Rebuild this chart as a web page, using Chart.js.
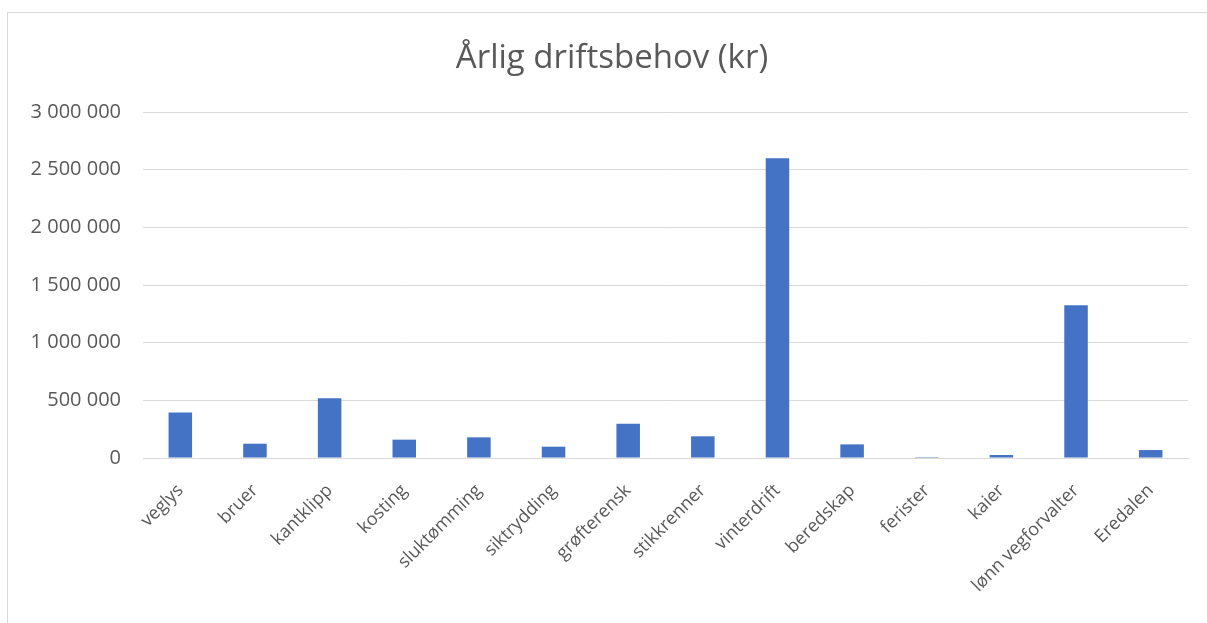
<!DOCTYPE html>
<html>
<head>
<meta charset="utf-8">
<script src="https://cdn.jsdelivr.net/npm/chart.js@4/dist/chart.umd.min.js"></script>
<style>
  html, body { margin: 0; padding: 0; background: #fff; }
  #wrap { position: relative; width: 1207px; height: 623px; overflow: hidden; }
  #frame { position: absolute; left: 7px; top: 12px; width: 1400px; height: 800px; border: 1px solid #d9d9d9; box-sizing: border-box; }
  canvas { position: absolute; left: 0; top: 0; }
  #title { position: absolute; left: 12px; width: 1200px; top: 36px; height: 40px; line-height: 40px; text-align: center;
           font-family: 'Open Sans', sans-serif; font-size: 33px; color: #595959; z-index: 2; }
</style>
</head>
<body>
<div id="wrap">
  <div id="frame"></div>
  <canvas id="c" width="1207" height="623"></canvas>
  <div id="title"></div>
</div>
<script>
const categories = ["veglys", "bruer", "kantklipp", "kosting", "sluktømming", "siktrydding", "grøfterensk", "stikkrenner", "vinterdrift", "beredskap", "ferister", "kaier", "lønn vegforvalter", "Eredalen"];
const values = [395000, 124000, 517000, 159000, 179000, 98000, 297000, 188000, 2600000, 118000, 8000, 26000, 1325000, 69000];
const yTicks = [0, 500000, 1000000, 1500000, 2000000, 2500000, 3000000];
const titleText = "Årlig driftsbehov (kr)";

document.getElementById("title").textContent = titleText;

function fmt(v) {
  return String(v).replace(/\B(?=(\d{3})+(?!\d))/g, " ");
}

new Chart(document.getElementById("c"), {
  type: "bar",
  data: {
    labels: categories,
    datasets: [{
      data: values,
      backgroundColor: "#4472c4",
      borderWidth: 0,
      categoryPercentage: 1.0,
      barPercentage: 0.315
    }]
  },
  options: {
    responsive: false,
    animation: false,
    devicePixelRatio: 1,
    layout: { padding: { left: 0, right: 19, top: 112, bottom: 0 } },
    plugins: {
      legend: { display: false },
      tooltip: { enabled: false },
      title: { display: false }
    },
    scales: {
      x: {
        grid: { display: false },
        border: { display: true, color: "#d9d9d9", width: 1 },
        ticks: {
          color: "#595959",
          font: { family: "'Open Sans'", size: 18 },
          maxRotation: 45,
          minRotation: 45,
          autoSkip: false,
          padding: 14
        },
        afterFit: function (s) { s.height = 165; }
      },
      y: {
        min: 0,
        max: 3000000,
        afterBuildTicks: function (s) { s.ticks = yTicks.map(v => ({ value: v })); },
        grid: { color: "#d9d9d9", lineWidth: 1, drawTicks: false },
        border: { display: false },
        ticks: {
          color: "#595959",
          font: { family: "'Open Sans'", size: 20 },
          padding: 22,
          callback: function (v) { return fmt(v); }
        },
        afterFit: function (s) { s.width = 143; }
      }
    }
  }
});
</script>
</body>
</html>
